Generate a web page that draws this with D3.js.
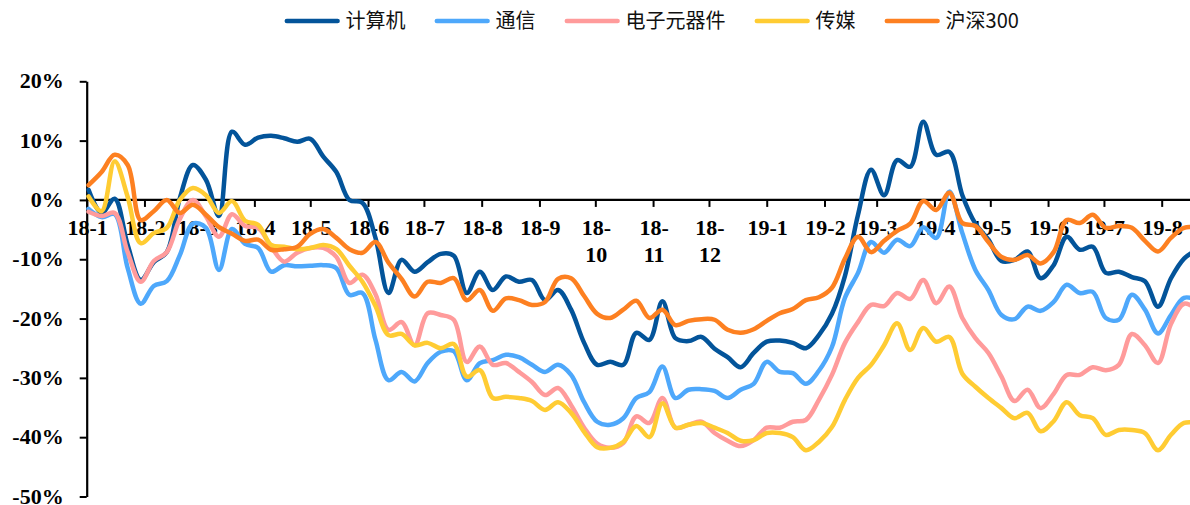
<!DOCTYPE html>
<html>
<head>
<meta charset="utf-8">
<script src="https://cdn.jsdelivr.net/npm/d3@7"></script>
<style>
  body { margin: 0; background: #fff; }
  .tick-label { font-family: "Liberation Serif", "Times New Roman", serif; font-weight: bold; font-size: 22px; fill: #000; }
  .legend text { font-family: "Noto Sans CJK SC", sans-serif; font-size: 20px; fill: #111; }
</style>
</head>
<body>
<div id="chart"></div>
<script>
// weekly observations, first one on 2018-01-02
const firstWeek = new Date(2018, 0, 2);
const weekCount = 86;

// month tick labels (18-1 ... 19-8)
const monthLabels = ["18-1","18-2","18-3","18-4","18-5","18-6","18-7","18-8","18-9","18-10",
  "18-11","18-12","19-1","19-2","19-3","19-4","19-5","19-6","19-7","19-8"];

const yTicks = [20, 10, 0, -10, -20, -30, -40, -50];

const seriesNames = ["计算机", "通信", "电子元器件", "传媒", "沪深300"];
const seriesColors = ["#03549a", "#4ea8fb", "#ff9b9b", "#ffcc33", "#fd8021"];

// cumulative return, %
const computer = [1.7,-2.2,0.2,-7.6,-13.5,-10.5,-8.8,0.3,5.9,3.4,
  -2.7,11.5,9.3,10.5,10.8,10.4,9.8,10.3,7.3,4.7,
  0,-0.5,-6.4,-15.7,-10.1,-12.1,-10.5,-9.1,-9.4,-15.7,
  -12.1,-15.2,-12.9,-13.8,-13.5,-16.9,-15.2,-18.5,-24.1,-27.8,
  -27.3,-27.8,-22.4,-23.6,-17.1,-23.3,-23.8,-23.1,-25.1,-26.5,
  -28.2,-25.8,-23.9,-23.7,-24.1,-25.0,-22.8,-19.2,-12.8,-2.5,
  5.1,0.8,6.7,5.6,13.2,7.6,8.1,0.8,-4.0,-6.7,
  -10.3,-10.1,-8.7,-13.2,-11.0,-6.2,-8.4,-7.9,-12.3,-12.1,
  -13.0,-13.7,-18.0,-13.2,-9.9,-8.4];

const telecom = [-1.5,-2.9,-2.4,-11.5,-17.5,-14.5,-13.7,-9.3,-4.0,-4.7,
  -11.8,-4.9,-7.4,-8.1,-12.1,-11.0,-11.2,-11.1,-11.0,-11.5,
  -16.0,-15.7,-23.6,-30.4,-29.0,-30.6,-27.5,-25.6,-25.5,-30.4,
  -27.5,-27.0,-26.1,-26.5,-27.8,-29.0,-27.8,-29.5,-34.1,-37.4,
  -37.9,-36.8,-33.4,-32.4,-28.1,-33.4,-32.0,-31.9,-32.2,-33.4,
  -32.0,-31.0,-27.3,-29.0,-29.2,-31.0,-28.8,-24.8,-16.5,-12.3,
  -7.1,-8.9,-6.7,-7.8,-4.6,-6.4,1.4,-5.6,-11.8,-15.2,
  -19.4,-20.1,-18.0,-18.7,-17.2,-14.3,-15.7,-15.5,-19.9,-20.2,
  -16.0,-18.5,-22.5,-19.4,-16.5,-16.9];

const electronics = [-2.0,-2.7,-2.2,-8.8,-13.8,-10.3,-8.8,-3.2,0.0,-2.8,
  -6.2,-2.4,-4.4,-4.7,-7.9,-10.4,-8.9,-8.1,-8.1,-9.6,
  -14.0,-12.6,-15.9,-21.9,-20.6,-24.5,-19.1,-19.4,-20.2,-27.3,
  -24.7,-27.8,-27.5,-29.0,-30.7,-32.9,-31.7,-34.6,-38.4,-41.1,
  -41.8,-41.0,-36.5,-37.6,-33.4,-38.4,-37.9,-37.4,-39.3,-40.6,
  -41.5,-40.5,-38.4,-38.4,-37.4,-37.1,-33.7,-29.5,-24.1,-20.6,
  -17.7,-17.9,-15.7,-16.7,-13.5,-17.4,-14.6,-19.9,-23.3,-25.8,
  -29.8,-33.9,-32.0,-35.1,-32.7,-29.5,-29.5,-28.2,-28.7,-27.8,
  -22.6,-24.5,-27.5,-20.9,-17.5,-18.5];

const media = [0.6,-1.9,6.5,0.5,-7.3,-5.6,-4.7,0.0,2.0,0.8,
  -2.2,-0.2,-3.5,-4.2,-7.6,-7.9,-8.3,-8.1,-7.6,-8.3,
  -11.1,-13.8,-17.9,-22.8,-22.6,-24.5,-24.1,-25.0,-24.3,-29.8,
  -28.7,-33.4,-33.2,-33.4,-33.9,-35.4,-34.1,-35.9,-39.1,-41.7,
  -41.8,-40.8,-38.1,-40.0,-34.3,-38.4,-37.9,-37.6,-38.4,-39.3,
  -40.6,-40.5,-39.3,-39.3,-40.0,-42.2,-40.8,-38.3,-33.7,-30.0,
  -27.8,-24.5,-20.8,-25.3,-21.6,-23.9,-23.1,-29.3,-31.5,-33.4,
  -35.1,-36.8,-35.9,-39.0,-37.3,-34.1,-36.3,-36.8,-39.6,-38.8,
  -38.8,-39.3,-42.2,-39.6,-37.6,-37.6];

const csi300 = [2.5,4.7,7.6,5.9,-3.4,-1.9,0.0,-2.2,-0.8,-2.5,
  -4.6,-5.7,-6.9,-6.7,-8.4,-8.3,-7.9,-5.7,-4.9,-6.4,
  -8.3,-8.9,-7.1,-10.6,-13.3,-16.3,-13.8,-14.0,-13.2,-16.9,
  -15.2,-18.7,-16.6,-16.9,-17.7,-17.2,-13.3,-13.2,-16.2,-19.2,
  -19.9,-18.5,-17.0,-19.9,-18.5,-21.1,-20.4,-20.1,-20.2,-21.9,
  -22.4,-21.8,-20.4,-19.1,-18.4,-16.9,-16.4,-14.8,-9.9,-6.2,
  -8.8,-6.9,-5.2,-4.0,-0.2,-1.7,1.2,-3.9,-4.4,-7.1,
  -9.6,-10.1,-9.3,-10.7,-8.8,-3.4,-3.9,-2.5,-4.7,-4.4,
  -4.7,-6.9,-8.7,-6.4,-4.7,-4.7];

const seriesValues = [computer, telecom, electronics, media, csi300];

// dimensions
const width = 1190, height = 505;
const plot = {left: 86.7, top: 81.3, bottom: 496.5, monthEnd: 1161.7};

const svg = d3.select("#chart")
  .append("svg")
    .attr("width", width)
    .attr("height", height)
    .style("display", "block");

svg.append("rect").attr("width", width).attr("height", height).attr("fill", "#fff");

const dates = d3.range(weekCount).map(i => d3.timeDay.offset(firstWeek, 7 * i));
const monthDates = monthLabels.map((d, i) => new Date(2018, i, 1));

// x: time scale, tick on the first of each month
const x = d3.scaleTime()
  .domain([monthDates[0], monthDates[monthDates.length - 1]])
  .range([plot.left, plot.monthEnd]);

const y = d3.scaleLinear()
  .domain([-50, 20])
  .range([plot.bottom, plot.top]);

// Y axis
const yAxis = svg.append("g")
  .attr("transform", `translate(${plot.left},0)`)
  .call(d3.axisLeft(y).tickValues(yTicks).tickSize(7).tickSizeOuter(0).tickFormat(d => d + "%"));
yAxis.select(".domain").attr("stroke", "#000").attr("stroke-width", 2.2);
yAxis.selectAll(".tick line").attr("stroke", "#000").attr("stroke-width", 2);
yAxis.selectAll(".tick text")
  .attr("class", "tick-label")
  .attr("x", -23)
  .attr("dy", "0.3em")
  .attr("font-size", null).attr("font-family", null);

// X axis along zero line
const xAxis = svg.append("g")
  .attr("transform", `translate(0,${y(0)})`)
  .call(d3.axisBottom(x).tickValues(monthDates).tickSize(7).tickSizeOuter(0).tickFormat(""));
xAxis.select(".domain").remove();
xAxis.append("line")
  .attr("x1", plot.left).attr("x2", width)
  .attr("stroke", "#000").attr("stroke-width", 2.2);
xAxis.selectAll(".tick line").attr("stroke", "#000").attr("stroke-width", 2);

// month labels, long ones wrap after the dash
const xLabels = svg.append("g").selectAll("text")
  .data(monthLabels)
  .enter()
  .append("text")
    .attr("class", "tick-label")
    .attr("text-anchor", "middle")
    .attr("x", (d, i) => x(monthDates[i]) + 1)
    .attr("y", 235);
xLabels.each(function(d) {
  const t = d3.select(this);
  if (d.length > 4) {
    const parts = d.split("-");
    t.append("tspan").attr("x", t.attr("x")).text(parts[0] + "-");
    t.append("tspan").attr("x", t.attr("x")).attr("dy", 27).text(parts[1]);
  } else {
    t.text(d);
  }
});

// lines
const line = d3.line()
  .x((d, i) => x(dates[i]))
  .y(d => y(d))
  .curve(d3.curveCatmullRom.alpha(0.5));

svg.append("g").selectAll("path")
  .data(seriesValues)
  .enter()
  .append("path")
    .attr("d", d => line(d))
    .attr("fill", "none")
    .attr("stroke", (d, i) => seriesColors[i])
    .attr("stroke-width", 4.5)
    .attr("stroke-linejoin", "round")
    .attr("stroke-linecap", "round");

// legend
const legend = svg.append("g").attr("class", "legend");
let lx = 284.6;
seriesNames.forEach(function(name, i) {
  legend.append("line")
    .attr("x1", lx + 2.2).attr("x2", lx + 53)
    .attr("y1", 21).attr("y2", 21)
    .attr("stroke", seriesColors[i])
    .attr("stroke-width", 4.5)
    .attr("stroke-linecap", "round");
  const t = legend.append("text")
    .attr("x", lx + 61)
    .attr("y", 28)
    .text(name);
  lx = lx + 61 + t.node().getComputedTextLength() + 29;
});
</script>
</body>
</html>
